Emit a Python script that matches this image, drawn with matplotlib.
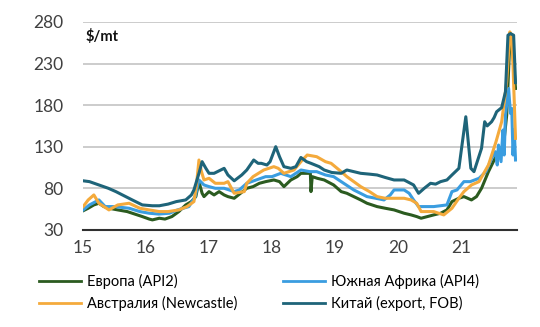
import matplotlib
matplotlib.use("Agg")
from matplotlib import pyplot as plt

plt.rcParams['font.family'] = ['Lato', 'Open Sans', 'DejaVu Sans']

# цены на уголь, $/mt (годы как 15..21)
china_x = [15.00, 15.10, 15.25, 15.40, 15.52, 15.65, 15.78, 15.94, 16.10, 16.21, 16.35, 16.48,
           16.63, 16.72, 16.76, 16.84, 16.89, 16.95, 17.00, 17.08, 17.16, 17.24, 17.30, 17.40,
           17.52, 17.60, 17.71, 17.78, 17.83, 17.92, 17.97, 18.06, 18.12, 18.19, 18.30, 18.38,
           18.46, 18.55, 18.62, 18.75, 18.83, 18.95, 19.10, 19.19, 19.30, 19.41, 19.55, 19.67,
           19.80, 19.94, 20.10, 20.20, 20.25, 20.33, 20.42, 20.52, 20.60, 20.68, 20.78, 20.86,
           20.97, 21.08, 21.16, 21.21, 21.33, 21.38, 21.42, 21.49, 21.53, 21.57, 21.65, 21.71,
           21.75, 21.79, 21.84, 21.87]
china_y = [89, 88, 84, 80, 76, 71, 66, 60, 59, 59, 61, 64,
           66, 72, 78, 98, 112, 104, 98, 98, 101, 104, 96, 89,
           96, 102, 114, 110, 110, 108, 112, 130, 118, 106, 104, 106,
           117, 112, 110, 106, 102, 99, 98, 102, 100, 98, 97, 96,
           93, 90, 90, 86, 84, 74, 80, 86, 85, 88, 90, 96,
           104, 166, 104, 100, 128, 160, 155, 160, 165, 172, 177, 196,
           264, 266, 264, 207]

europe_x = [15.00, 15.08, 15.17, 15.25, 15.33, 15.41, 15.55, 15.70, 15.78, 15.94, 16.05, 16.10,
            16.21, 16.30, 16.41, 16.52, 16.63, 16.72, 16.79, 16.84, 16.89, 16.92, 17.00, 17.08,
            17.16, 17.24, 17.30, 17.40, 17.50, 17.60, 17.70, 17.80, 17.90, 18.03, 18.12, 18.19,
            18.30, 18.40, 18.46, 18.56, 18.61, 18.62, 18.64, 18.72, 18.83, 18.98, 19.10, 19.19,
            19.30, 19.41, 19.51, 19.67, 19.80, 19.94, 20.10, 20.21, 20.30, 20.37, 20.47, 20.57,
            20.68, 20.78, 20.86, 20.97, 21.05, 21.17, 21.25, 21.33, 21.44, 21.57, 21.68, 21.73,
            21.77, 21.79, 21.83, 21.87]
europe_y = [53, 56, 60, 62, 58, 56, 54, 52, 50, 46, 43, 42,
            44, 43, 46, 52, 60, 64, 70, 88, 74, 70, 76, 72,
            76, 72, 70, 68, 74, 80, 82, 86, 88, 90, 88, 82,
            90, 94, 98, 98, 98, 76, 94, 92, 90, 84, 76, 74,
            70, 66, 62, 58, 56, 54, 50, 48, 46, 44, 46, 48,
            50, 54, 64, 68, 70, 66, 70, 80, 100, 120, 132, 168,
            240, 262, 240, 200]

safrica_x = [15.00, 15.10, 15.25, 15.35, 15.50, 15.73, 15.90, 16.05, 16.20, 16.37, 16.50, 16.68,
             16.78, 16.84, 16.92, 17.00, 17.10, 17.24, 17.40, 17.48, 17.60, 17.75, 17.90, 18.00,
             18.14, 18.30, 18.46, 18.60, 18.71, 18.85, 18.98, 19.10, 19.30, 19.51, 19.65, 19.78,
             19.88, 19.94, 20.10, 20.18, 20.25, 20.33, 20.57, 20.78, 20.86, 20.94, 21.05, 21.15,
             21.29, 21.40, 21.49, 21.55, 21.58, 21.60, 21.64, 21.67, 21.69, 21.71, 21.76, 21.79,
             21.81, 21.83, 21.85, 21.87]
safrica_y = [54, 60, 66, 58, 58, 56, 52, 50, 49, 50, 54, 58,
             70, 90, 84, 82, 80, 80, 76, 78, 86, 90, 94, 94,
             98, 94, 102, 100, 100, 96, 94, 88, 78, 70, 68, 66,
             72, 78, 78, 74, 66, 58, 58, 60, 76, 78, 88, 88,
             92, 100, 116, 124, 108, 132, 112, 150, 120, 168, 200, 170,
             176, 120, 150, 114]

austr_x = [15.00, 15.08, 15.17, 15.25, 15.33, 15.41, 15.55, 15.73, 15.90, 16.05, 16.21, 16.35,
           16.52, 16.65, 16.76, 16.80, 16.84, 16.88, 16.92, 17.00, 17.10, 17.24, 17.30, 17.40,
           17.56, 17.60, 17.70, 17.87, 18.03, 18.10, 18.19, 18.35, 18.46, 18.56, 18.71, 18.85,
           18.94, 19.10, 19.19, 19.30, 19.41, 19.55, 19.67, 19.80, 19.94, 20.10, 20.21, 20.30,
           20.37, 20.57, 20.73, 20.86, 20.97, 21.05, 21.17, 21.29, 21.44, 21.56, 21.65, 21.73,
           21.78, 21.81, 21.83, 21.87]
austr_y = [58, 66, 72, 62, 58, 54, 60, 62, 56, 54, 52, 52,
           54, 58, 64, 84, 114, 100, 90, 92, 86, 86, 88, 74,
           76, 86, 94, 102, 106, 104, 98, 102, 112, 120, 118, 112,
           110, 100, 94, 88, 82, 76, 70, 68, 68, 68, 66, 62,
           52, 52, 48, 56, 68, 76, 84, 88, 108, 136, 160, 208,
           268, 262, 228, 140]

years = [15, 16, 17, 18, 19, 20, 21]
yticks = [30, 80, 130, 180, 230, 280]

fig = plt.figure(figsize=(5.4, 3.27), dpi=100)
ax = fig.add_axes([0.154, 0.297, 0.803, 0.636])

lw = 2.2
ax.plot(europe_x, europe_y, color='#2b5b20', lw=lw, label='Европа (API2)', zorder=3)
ax.plot(safrica_x, safrica_y, color='#3a9de0', lw=lw, label='Южная Африка (API4)', zorder=4)
ax.plot(austr_x, austr_y, color='#f4aa3c', lw=lw, label='Австралия (Newcastle)', zorder=5)
ax.plot(china_x, china_y, color='#1e6479', lw=lw, label='Китай (export, FOB)', zorder=6)

ax.set_xlim(15, 21.89)
ax.set_ylim(30, 280)
ax.set_xticks(years)
ax.set_xticklabels([str(y) for y in years])
ax.set_yticks(yticks)
for y in yticks[1:]:
    ax.axhline(y, color='#c8c8c8', lw=1.3, zorder=1)
for s in ['top', 'right', 'left']:
    ax.spines[s].set_visible(False)
ax.spines['bottom'].set_color('#303030')
ax.spines['bottom'].set_linewidth(1.5)
ax.tick_params(axis='both', length=0, labelsize=12.5, colors='#404040')
ax.tick_params(axis='y', pad=14)
ax.tick_params(axis='x', pad=7)

ax.text(0.005, 0.93, '$/mt', transform=ax.transAxes, fontsize=10.5, fontweight='bold',
        va='center', ha='left', color='#111111')

handles, labels = ax.get_legend_handles_labels()
order = [0, 2, 1, 3]
leg = fig.legend([handles[i] for i in order], [labels[i] for i in order], ncol=2,
                 loc='upper left', bbox_to_anchor=(0.072, 0.162), frameon=False,
                 fontsize=10.5, handlelength=2.9, handletextpad=0.4, columnspacing=3.1,
                 labelspacing=0.45, borderpad=0, borderaxespad=0)
for line in leg.get_lines():
    line.set_linewidth(2)

fig.savefig('out.png', dpi=100)
